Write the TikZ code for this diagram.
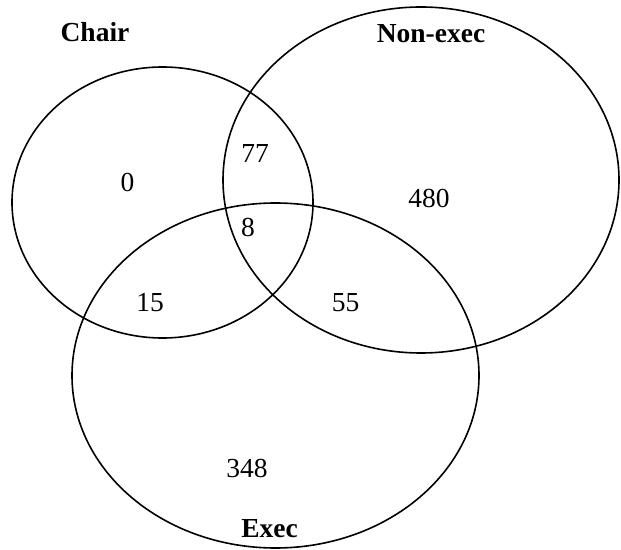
\documentclass[tikz,border=0pt]{standalone}
\usepackage{fontspec}
\setmainfont{Liberation Serif}
\usetikzlibrary{positioning}

\begin{document}
\begin{tikzpicture}[
  x=0.5pt,y=-0.5pt,
  font=\fontsize{13.75}{16}\selectfont,
  set/.style={draw=black, line width=0.8pt},
  setlabel/.style={font=\fontsize{13.75}{16}\selectfont\bfseries, anchor=base, inner sep=0pt},
  count/.style={anchor=base, inner sep=0pt}
]
\useasboundingbox (0,0) rectangle (621,550);

% set centres
\coordinate (chairc) at (162.5,202.5);
\coordinate (nonexecc) at (421,180);
\coordinate (execc) at (275.5,375.5);

\draw[set] (chairc) ellipse [x radius=75.25pt, y radius=67.75pt];
\draw[set] (nonexecc) ellipse [x radius=99pt, y radius=86.5pt];
\draw[set] (execc) ellipse [x radius=101.75pt, y radius=86.25pt];

\node[setlabel] (chair) at (95,42) {Chair};
\node[setlabel] (nonexec) at (431,43) {Non-exec};
\node[setlabel] (exec) at (269.5,538) {Exec};

\node[count] (onlychair) at (127.5,192) {0};
\node[count] (chairnon) at (255,163) {77};
\node[count] (allthree) at (248,237) {8};
\node[count] (chairexec) at (150,312) {15};
\node[count] (onlynon) at (429,208) {480};
\node[count] (nonexecexec) at (345.5,312) {55};
\node[count] (onlyexec) at (247,478) {348};

\end{tikzpicture}
\end{document}
